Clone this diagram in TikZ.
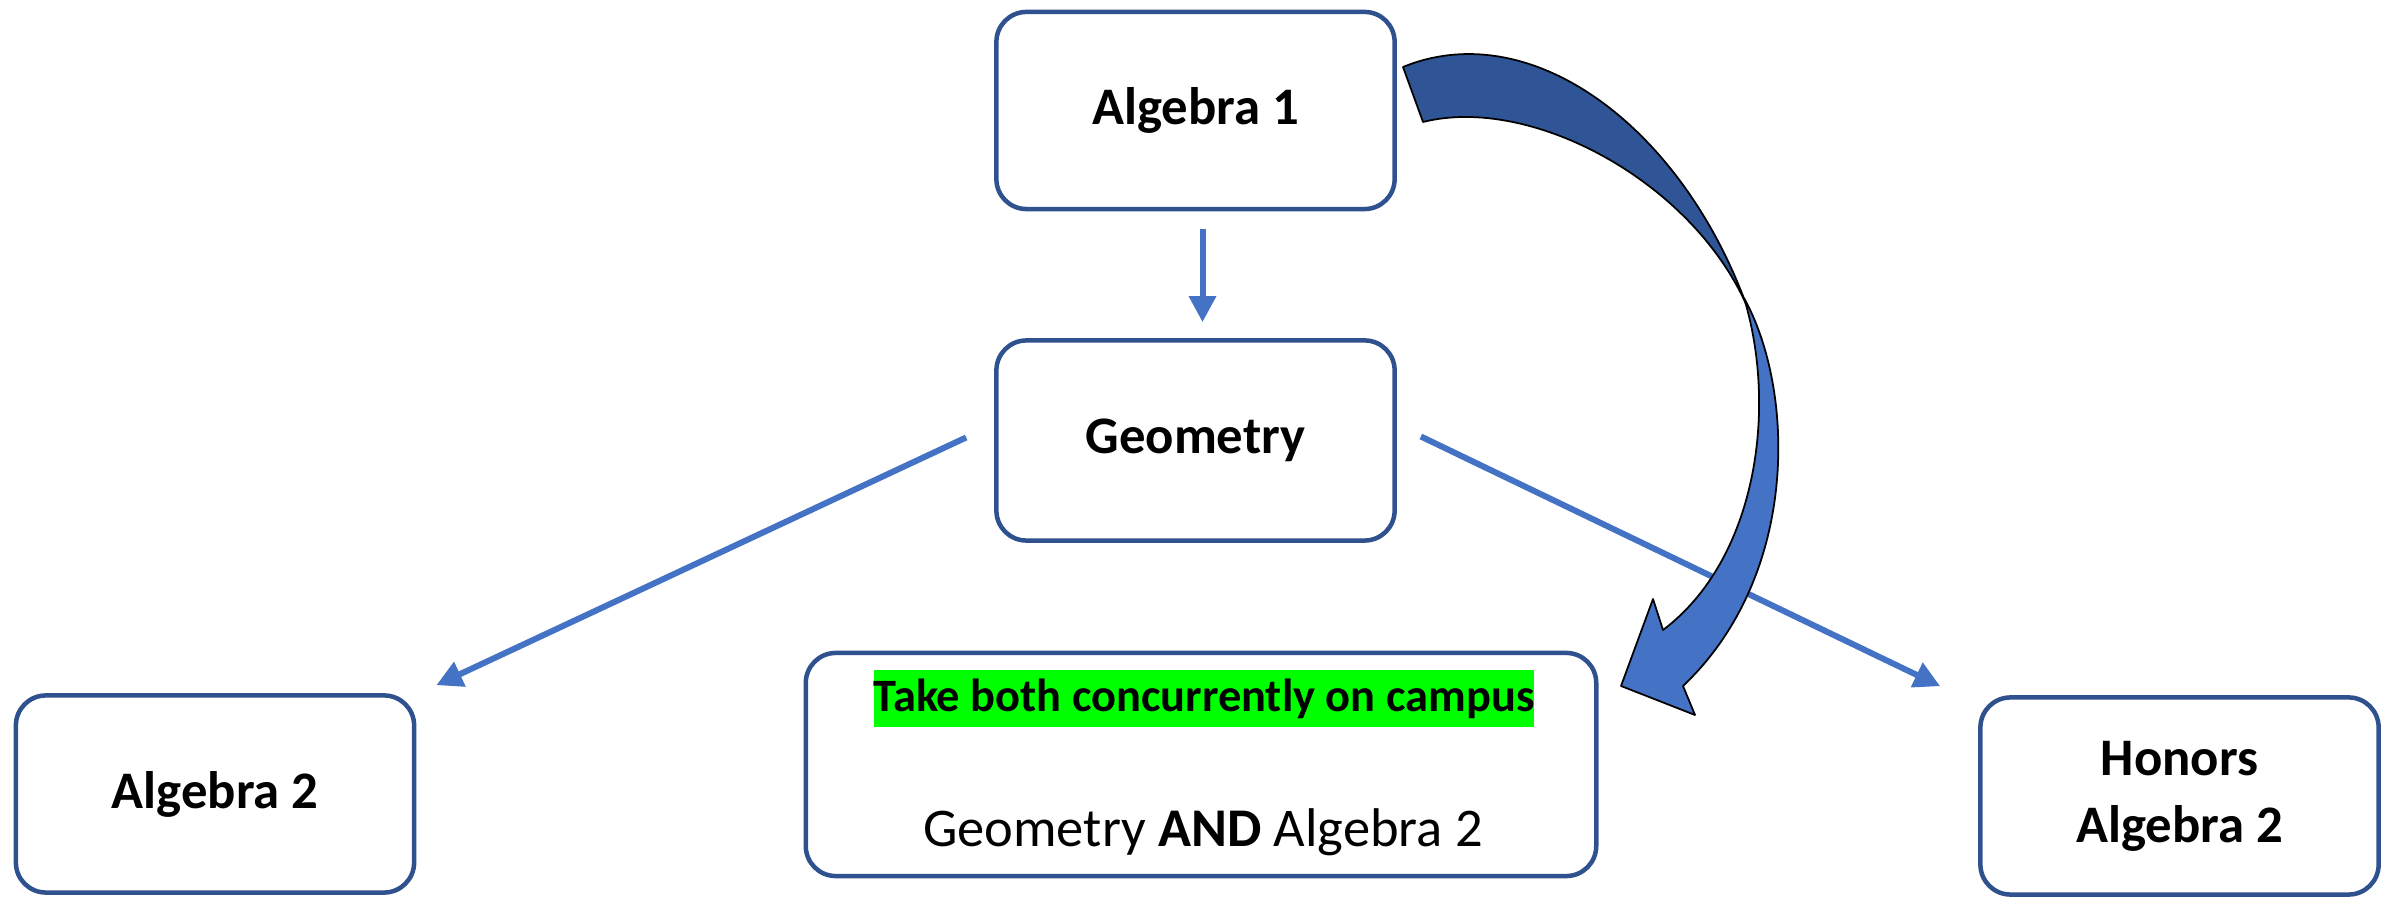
\documentclass[tikz,border=0pt]{standalone}
\usepackage{fontspec}
\setmainfont{Carlito}
\usetikzlibrary{arrows.meta,calc}
\definecolor{boxblue}{HTML}{2F528F}
\definecolor{lineblue}{HTML}{4472C4}
\definecolor{darkarrow}{HTML}{2F5597}
\definecolor{hlgreen}{HTML}{00FF00}
\tikzset{
  course/.style={draw=boxblue, line width=0.045cm, rounded corners=0.3cm, fill=white,
    minimum width=3.98cm, minimum height=1.97cm, align=center, inner sep=0pt,
    font=\fontsize{15}{19}\selectfont\bfseries},
  conn/.style={draw=lineblue, line width=0.06cm, -{Triangle[length=0.26cm,width=0.26cm]}},
  bigarrow/.style={draw=black, line width=0.5pt, line join=round},
}
\begin{document}
\begin{tikzpicture}[x=0.01cm,y=-0.01cm]
\useasboundingbox (0,0) rectangle (2394,898);
\fill[white] (0,0) rectangle (2394,898);

\node[course] (alg1) at (1195.5,110.5) {Algebra 1};
\node[course, minimum height=2.0cm] (geo) at (1195.5,440.5) {Geometry};
\node[course] (alg2) at (215,794) {Algebra 2};
\node[course] (hon) at (2179.5,796) {Honors\\Algebra 2};
\node[course, minimum width=7.9cm, minimum height=2.23cm] (both) at (1201,764.5) {};
\node[fill=hlgreen, inner xsep=0pt, inner ysep=0pt, minimum height=0.57cm,
      font=\fontsize{13.2}{16}\selectfont\bfseries] (hl) at (1204,698.5) {Take both concurrently on campus};
\node[anchor=base, inner sep=0pt, font=\fontsize{15.5}{19}\selectfont] (pair) at (1203,847)
      {Geometry \textbf{AND} Algebra 2};

\draw[conn] ([shift={(7,18)}]alg1.south) -- ([shift={(7,-16)}]geo.north);
\draw[conn] ([shift={(-28,-3)}]geo.west) -- ([shift={(20,-8)}]alg2.north east);
\draw[conn] ([shift={(24,-4)}]geo.east) -- ([shift={(-38,-9)}]hon.north west);

% big curved arrow from Algebra 1 to the concurrent box
\filldraw[bigarrow, fill=darkarrow]
  (1403,67) .. controls (1530,15) and (1680,125) .. (1746,304)
  .. controls (1690,180) and (1530,95) .. (1423,122)
  -- cycle;
\filldraw[bigarrow, fill=lineblue]
  (1744,298) .. controls (1795,390) and (1800,575) .. (1683,686)
  -- (1695,715) -- (1621,686) -- (1653,599) -- (1663,630)
  .. controls (1756,560) and (1778,410) .. (1744,298)
  -- cycle;
\end{tikzpicture}
\end{document}
